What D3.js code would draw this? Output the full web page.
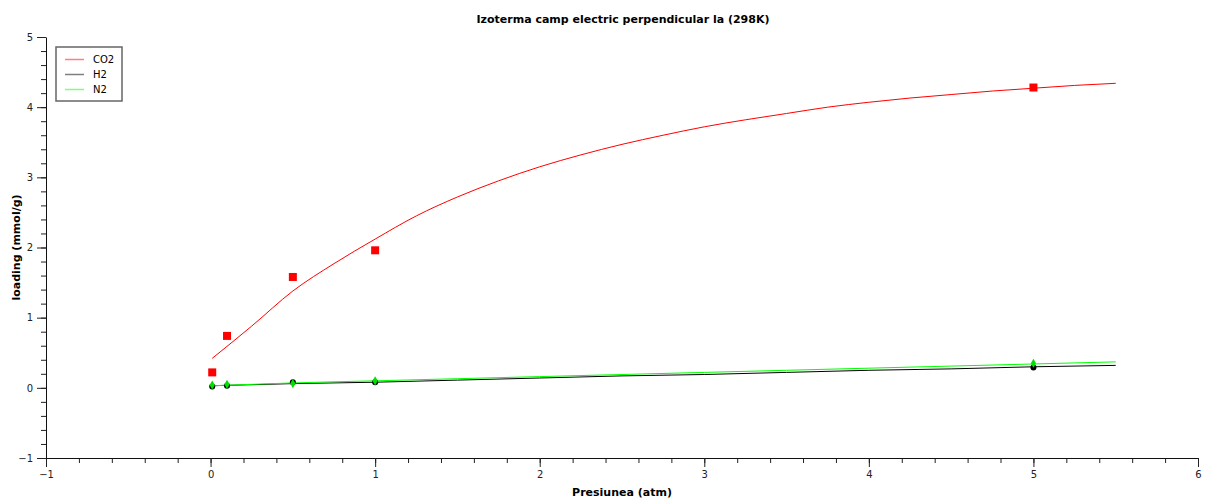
<!DOCTYPE html>
<html lang="ro">
<head>
<meta charset="UTF-8">
<title>Izoterma camp electric perpendicular la (298K)</title>
<style>
    body { margin: 0; padding: 0; background: #fff; }
    svg text { font-family: "DejaVu Sans", Verdana, sans-serif; }
</style>
</head>
<body>
<script src="https://d3js.org/d3.v7.min.js"></script>
<script>
    // date
    const titlu = 'Izoterma camp electric perpendicular la (298K)'
    const etichetaX = 'Presiunea (atm)'
    const etichetaY = 'loading (mmol/g)'
    const serii = ['CO2', 'H2', 'N2']
    const culori = ['#ff0000', '#000000', '#00ff00']

    // puncte experimentale
    const presExp = [0.01, 0.1, 0.5, 1, 5]
    const co2Exp = [0.22, 0.74, 1.58, 1.96, 4.28]
    const h2Exp = [0.02, 0.03, 0.08, 0.08, 0.29]
    const n2Exp = [0.04, 0.05, 0.06, 0.10, 0.35]

    // curbe simulate
    const presCO2 = [0.01, 0.25, 0.5, 0.75, 1, 1.25, 1.5, 1.75, 2, 2.25, 2.5, 2.75, 3, 3.25, 3.5, 3.75, 4, 4.25, 4.5, 4.75, 5, 5.25, 5.5]
    const co2Fit = [0.42, 0.88, 1.38, 1.77, 2.12, 2.45, 2.72, 2.95, 3.15, 3.32, 3.47, 3.60, 3.72, 3.82, 3.91, 4.00, 4.07, 4.13, 4.18, 4.23, 4.27, 4.31, 4.34]
    const presGaz = [0.01, 0.5, 1, 1.5, 2, 2.5, 3, 3.5, 4, 4.5, 5, 5.5]
    const h2Fit = [0.03, 0.06, 0.08, 0.11, 0.14, 0.17, 0.19, 0.22, 0.25, 0.27, 0.30, 0.32]
    const n2Fit = [0.03, 0.07, 0.10, 0.13, 0.16, 0.19, 0.22, 0.25, 0.28, 0.31, 0.34, 0.37]

    const xDomeniu = [-1, 6]
    const yDomeniu = [-1, 5]

    const width = 1207, height = 501
    const svg = d3.select('body').append('svg')
        .attr('width', width).attr('height', height)

    const x = d3.scaleLinear().domain(xDomeniu).range([46, 1198])
    const y = d3.scaleLinear().domain(yDomeniu).range([458, 37])

    // axe: gradatii mici
    svg.append('g')
        .attr('transform', `translate(0,${y(-1)})`)
        .call(d3.axisBottom(x).tickValues(d3.range(-1, 6.01, 0.2)).tickSize(5).tickFormat(''))
        .call(g => g.select('.domain').remove())
    svg.append('g')
        .attr('transform', `translate(${x(-1)},0)`)
        .call(d3.axisLeft(y).tickValues(d3.range(-1, 5.01, 0.2)).tickSize(5).tickFormat(''))
        .call(g => g.select('.domain').remove())

    // gradatii mari
    svg.append('g')
        .attr('transform', `translate(0,${y(-1)})`)
        .call(d3.axisBottom(x).tickValues(d3.range(-1, 7)).tickFormat(d3.format('d'))
            .tickSize(9).tickSizeOuter(0).tickPadding(4))
    svg.append('g')
        .attr('transform', `translate(${x(-1)},0)`)
        .call(d3.axisLeft(y).tickValues(d3.range(-1, 6)).tickFormat(d3.format('d'))
            .tickSize(9).tickSizeOuter(0).tickPadding(4))

    svg.selectAll('.tick text').attr('font-size', 10).attr('fill', '#222')
        .style('font-family', '"DejaVu Sans", Verdana, sans-serif')
    svg.selectAll('.tick line').attr('stroke', '#222')
    svg.selectAll('.domain').attr('stroke', '#111')

    // titlu si etichete
    svg.append('text')
        .attr('x', 623).attr('y', 23)
        .attr('text-anchor', 'middle')
        .attr('font-size', 11).attr('font-weight', 'bold')
        .text(titlu)
    svg.append('text')
        .attr('x', 622).attr('y', 496)
        .attr('text-anchor', 'middle')
        .attr('font-size', 11).attr('font-weight', 'bold')
        .text(etichetaX)
    svg.append('text')
        .attr('transform', `translate(20,${y(2)}) rotate(-90)`)
        .attr('text-anchor', 'middle')
        .attr('font-size', 11).attr('font-weight', 'bold')
        .text(etichetaY)

    // curbe
    const linie = d3.line().x(d => x(d[0])).y(d => y(d[1])).curve(d3.curveMonotoneX)
    const curbe = [
        d3.zip(presCO2, co2Fit),
        d3.zip(presGaz, h2Fit),
        d3.zip(presGaz, n2Fit)
    ]
    svg.append('g').selectAll('path')
        .data(curbe)
        .enter().append('path')
        .attr('d', linie)
        .attr('fill', 'none')
        .attr('stroke', (d, i) => culori[i])
        .attr('stroke-width', 1)

    // puncte
    svg.append('g').selectAll('rect')
        .data(d3.zip(presExp, co2Exp))
        .enter().append('rect')
        .attr('x', d => x(d[0]) - 4).attr('y', d => y(d[1]) - 4)
        .attr('width', 8).attr('height', 8)
        .attr('fill', '#ff0000')
    svg.append('g').selectAll('circle')
        .data(d3.zip(presExp, h2Exp))
        .enter().append('circle')
        .attr('cx', d => x(d[0])).attr('cy', d => y(d[1]))
        .attr('r', 3)
        .attr('fill', '#000')
    svg.append('g').selectAll('path')
        .data(d3.zip(presExp, n2Exp))
        .enter().append('path')
        .attr('transform', d => `translate(${x(d[0])},${y(d[1])})`)
        .attr('d', d3.symbol().type(d3.symbolDiamond).size(24))
        .attr('fill', '#00e000')

    // legenda
    const leg = svg.append('g').attr('transform', 'translate(56,47)')
    leg.append('rect')
        .attr('width', 66).attr('height', 54)
        .attr('fill', '#fff').attr('stroke', '#666').attr('stroke-width', 1.5)
    serii.forEach((s, i) => {
        leg.append('line')
            .attr('x1', 9).attr('x2', 28)
            .attr('y1', 12.5 + i * 15).attr('y2', 12.5 + i * 15)
            .attr('stroke', culori[i]).attr('stroke-opacity', 0.5).attr('stroke-width', 1.5)
        leg.append('text')
            .attr('x', 37).attr('y', 16 + i * 15)
            .attr('font-size', 10)
            .text(s)
    })
</script>
</body>
</html>
